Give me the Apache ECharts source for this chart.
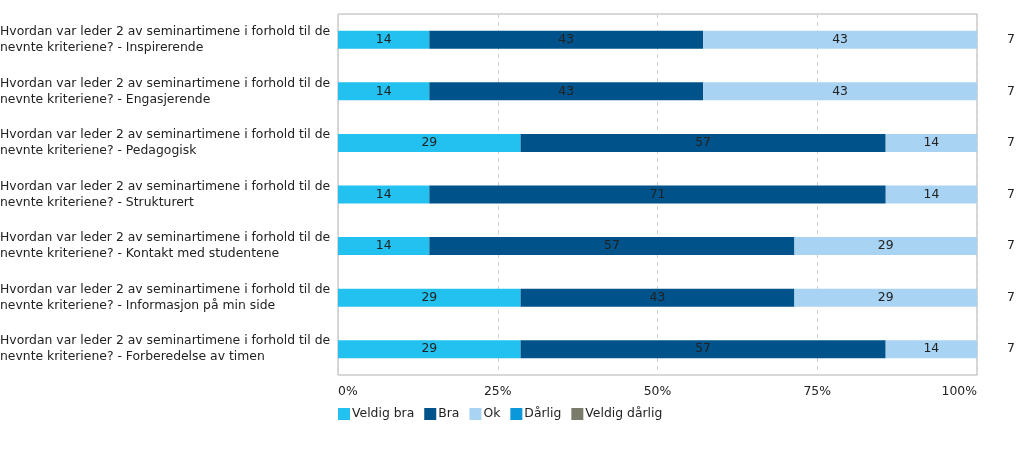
<!DOCTYPE html>
<html><head><meta charset="utf-8">
<script src="https://cdn.jsdelivr.net/npm/echarts@6/dist/echarts.min.js"></script>
<style>html,body{margin:0;padding:0;background:#fff}#c{width:1024px;height:455px}</style>
</head><body><div id="c"></div>
<script>
const prefix = 'Hvordan var leder 2 av seminartimene i forhold til de\nnevnte kriteriene? - ';
const categories = ['Inspirerende','Engasjerende','Pedagogisk','Strukturert','Kontakt med studentene','Informasjon på min side','Forberedelse av timen'];
const counts = ['7','7','7','7','7','7','7'];
const seriesNames = ['Veldig bra','Bra','Ok','Dårlig','Veldig dårlig'];
const veldigBra = [14.29,14.29,28.57,14.29,14.29,28.57,28.57];
const bra = [42.86,42.86,57.14,71.43,57.14,42.86,57.14];
const ok = [42.85,42.85,14.29,14.28,28.57,28.57,14.29];
const darlig = [0,0,0,0,0,0,0];
const veldigDarlig = [0,0,0,0,0,0,0];
const xTicks = ['0%','25%','50%','75%','100%'];
const colors = ['#22c1ef','#00528a','#a8d3f2','#0b98db','#7b7b6b'];
const values = [veldigBra, bra, ok, darlig, veldigDarlig];
const font = 'DejaVu Sans, Verdana, sans-serif';
const fs = 12.4;
const chart = echarts.init(document.getElementById('c'));
chart.setOption({
  animation:false,
  color: colors,
  textStyle:{fontFamily:font},
  grid:{left:338,right:47,top:14,bottom:80,show:true,borderColor:'#b0b0b0',borderWidth:1,
    outerBoundsMode:'none',containLabel:false},
  legend:{left:333,top:403,itemWidth:12,itemHeight:12,itemGap:10,icon:'rect',
    textStyle:{fontFamily:font,fontSize:fs,color:'#222',padding:[0,0,0,-3]},data:seriesNames},
  xAxis:{type:'value',min:0,max:100,interval:25,
    axisLine:{show:false},axisTick:{show:false},
    splitLine:{show:true,lineStyle:{type:[4,4],color:'#d0d0d0'}},
    axisLabel:{formatter:(v)=>xTicks[v/25],fontFamily:font,fontSize:fs,color:'#222',margin:11,
      alignMinLabel:'left',alignMaxLabel:'right'}},
  yAxis:[{type:'category',inverse:true,data:categories.map(c=>prefix+c),
    axisLine:{show:false},axisTick:{show:false},
    axisLabel:{align:'left',margin:338,fontFamily:font,fontSize:fs,color:'#222',lineHeight:16}},
   {type:'category',inverse:true,position:'right',data:counts,
    axisLine:{show:false},axisTick:{show:false},
    axisLabel:{margin:30,fontFamily:font,fontSize:fs,color:'#222'}}],
  series: seriesNames.map((n,i)=>({name:n,type:'bar',stack:'t',yAxisIndex:0,barWidth:18,
    data:values[i],
    label:{show:true,position:'inside',formatter:(p)=>p.value>0?Math.round(p.value):'',
      color:'#222',fontFamily:font,fontSize:fs}}))
});
</script></body></html>
